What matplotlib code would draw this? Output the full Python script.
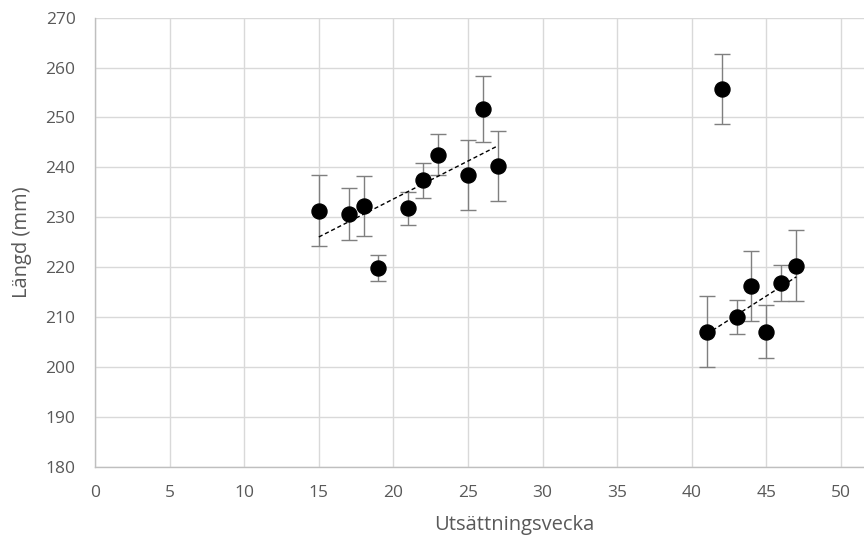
import numpy as np
import matplotlib
matplotlib.use('Agg')
import matplotlib.pyplot as plt

plt.rcParams['font.family'] = ['Open Sans', 'DejaVu Sans']

# vår-utsättning
vecka_var = [15, 17, 18, 19, 21, 22, 23, 25, 26, 27]
langd_var = [231.3, 230.7, 232.3, 219.9, 231.8, 237.4, 242.5, 238.5, 251.7, 240.3]
fel_var = [7.1, 5.2, 6.0, 2.6, 3.3, 3.5, 4.1, 7.0, 6.6, 7.0]

# höst-utsättning
vecka_host = [41, 43, 44, 45, 46, 47]
langd_host = [207.1, 210.0, 216.3, 207.1, 216.9, 220.3]
fel_host = [7.1, 3.5, 7.0, 5.4, 3.6, 7.1]

# avvikande punkt
vecka_avv = [42]
langd_avv = [255.7]
fel_avv = [7.1]

x_ticks = [0, 5, 10, 15, 20, 25, 30, 35, 40, 45, 50]
y_ticks = [180, 190, 200, 210, 220, 230, 240, 250, 260, 270]

fig = plt.figure(figsize=(8.64, 5.43), dpi=100)
ax = fig.add_axes([95 / 864, 1 - 466.7 / 543, 1 - 95 / 864, (466.7 - 17.7) / 543])

for xs, ys, es in [(vecka_var, langd_var, fel_var), (vecka_host, langd_host, fel_host), (vecka_avv, langd_avv, fel_avv)]:
    ax.errorbar(xs, ys, yerr=es, fmt='o', color='black', markersize=10.8,
                ecolor='#7f7f7f', elinewidth=1.0, capsize=5.5, capthick=1.0, zorder=3)

# linjära trendlinjer
for xs, ys in [(vecka_var, langd_var), (vecka_host, langd_host)]:
    k, m = np.polyfit(xs, ys, 1)
    xl = np.array([min(xs), max(xs)])
    ax.plot(xl, k * xl + m, color='black', linestyle=(0, (3, 2)), linewidth=1.0, zorder=4)

ax.set_xlim(0, 51.54)
ax.set_ylim(180, 270)
ax.set_xticks(x_ticks)
ax.set_yticks(y_ticks)
ax.grid(True, color='#d9d9d9', linewidth=1.0)
ax.set_axisbelow(True)
for s in ['top', 'right']:
    ax.spines[s].set_visible(False)
for s in ['left', 'bottom']:
    ax.spines[s].set_color('#bfbfbf')
    ax.spines[s].set_linewidth(1.0)
ax.tick_params(length=0, labelsize=12.5, colors='#595959')
ax.tick_params(axis='x', pad=13)
ax.tick_params(axis='y', pad=14)
ax.set_xlabel('Utsättningsvecka', fontsize=14.5, color='#595959')
ax.set_ylabel('Längd (mm)', fontsize=14.5, color='#595959', labelpad=10)
# diagrammet är beskuret till höger, så axeltiteln sitter till höger om mitten
ax.xaxis.set_label_coords(0.545, -0.108)

fig.savefig('out.png', dpi=100)
